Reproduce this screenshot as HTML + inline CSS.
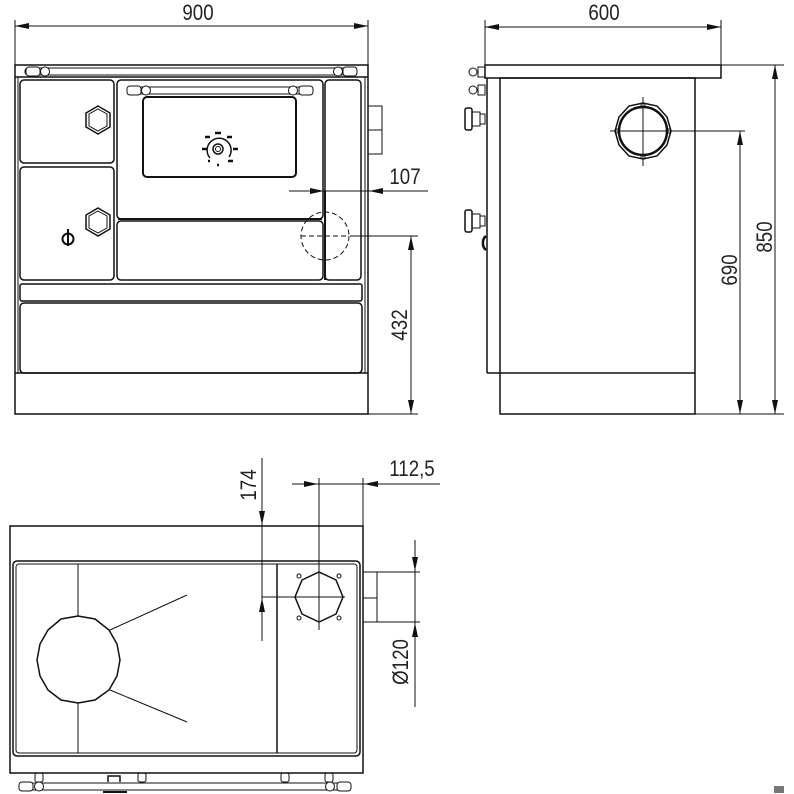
<!DOCTYPE html>
<html><head><meta charset="utf-8"><style>
html,body{margin:0;padding:0;background:#fff;}
svg{display:block;}
text{font-family:"Liberation Sans Narrow","Liberation Sans",sans-serif;font-size:22px;fill:#222;}
</style></head><body>
<svg width="794" height="794" viewBox="0 0 794 794" xmlns="http://www.w3.org/2000/svg">
<defs>
<marker id="a" markerWidth="14" markerHeight="6" refX="14" refY="3" orient="auto-start-reverse" markerUnits="userSpaceOnUse">
<path d="M0,0 L14,3 L0,6 Z" fill="#111"/></marker>
</defs>
<g fill="none" stroke="#111" stroke-width="1">
<!-- ===== FRONT VIEW ===== -->
<line x1="15" y1="20" x2="15" y2="65"/><line x1="368" y1="20" x2="368" y2="65"/>
<line x1="15" y1="26" x2="368" y2="26" marker-start="url(#a)" marker-end="url(#a)"/>
<rect x="15" y="65" width="353" height="349" stroke-width="1.5"/>
<line x1="15" y1="77" x2="368" y2="77" stroke-width="1.5"/>
<line x1="18" y1="77" x2="18" y2="373"/><line x1="365" y1="77" x2="365" y2="373"/>
<line x1="15" y1="373" x2="368" y2="373" stroke-width="1.5"/>
<rect x="25" y="68" width="332" height="7" rx="3"/>
<rect x="26" y="67" width="14" height="9" rx="3" fill="#fff"/><circle cx="45" cy="71.5" r="4.5" fill="#fff"/>
<rect x="343" y="67" width="14" height="9" rx="3" fill="#fff"/><circle cx="338" cy="71.5" r="4.5" fill="#fff"/>
<rect x="20" y="80" width="94" height="83" rx="4" stroke-width="1.5"/>
<rect x="20" y="167" width="94" height="113" rx="4" stroke-width="1.5"/>
<rect x="117" y="80" width="206" height="139" rx="4" stroke-width="1.5"/>
<rect x="117" y="221" width="206" height="59" rx="4" stroke-width="1.5"/>
<rect x="325" y="80" width="36" height="200" rx="4" stroke-width="1.5"/>
<rect x="20" y="284" width="342" height="17" rx="2" stroke-width="1.5"/>
<rect x="20" y="303" width="342" height="70" rx="4" stroke-width="1.5"/>
<line x1="118" y1="219" x2="322" y2="219" stroke-width="2"/>
<rect x="127" y="87" width="186" height="7" rx="3"/>
<rect x="127" y="86" width="14" height="9" rx="3" fill="#fff"/><circle cx="146" cy="90.5" r="4.5" fill="#fff"/>
<rect x="299" y="86" width="14" height="9" rx="3" fill="#fff"/><circle cx="293" cy="90.5" r="4.5" fill="#fff"/>
<rect x="143" y="97" width="153" height="80" rx="4" stroke-width="2"/>
<polygon points="98,106 110,113 110,127 98,134 86,127 86,113" stroke-width="1.5"/>
<polygon points="98,109 107,114 107,126 98,131 89,126 89,114"/>
<polygon points="98,208 110,215 110,229 98,236 86,229 86,215" stroke-width="1.5"/>
<polygon points="98,211 107,216 107,228 98,233 89,228 89,216"/>
<circle cx="68" cy="239" r="5.5" stroke-width="2"/><line x1="68" y1="229" x2="68" y2="246" stroke-width="2"/>
<circle cx="218" cy="149" r="5" stroke-width="1.5"/><circle cx="218" cy="149" r="2.5"/>
<path d="M210,158 A12,12 0 1 1 229,157" stroke-width="1.5"/>
<g stroke-width="2.5"><line x1="205" y1="137" x2="210" y2="137"/><line x1="215" y1="133" x2="221" y2="133"/><line x1="227" y1="137" x2="232" y2="137"/><line x1="233" y1="149" x2="238" y2="149"/><line x1="228" y1="161" x2="233" y2="161"/><line x1="202" y1="149" x2="207" y2="149"/><line x1="208" y1="161" x2="210" y2="161"/><line x1="217" y1="165" x2="219" y2="165"/></g>
<rect x="368" y="106" width="14" height="48"/><line x1="368" y1="130" x2="382" y2="130"/>
<line x1="289" y1="191" x2="428" y2="191"/>
<line x1="305" y1="191" x2="324" y2="191" marker-end="url(#a)"/>
<line x1="390" y1="191" x2="369" y2="191" marker-end="url(#a)"/>
<line x1="325" y1="191" x2="325" y2="280" stroke-width="2"/>
<circle cx="325" cy="236" r="24" stroke-dasharray="5,3"/>
<line x1="301" y1="236" x2="349" y2="236" stroke-dasharray="5,3"/>
<line x1="350" y1="236" x2="418" y2="236"/>
<line x1="368" y1="414" x2="418" y2="414"/>
<line x1="411" y1="236" x2="411" y2="414" marker-start="url(#a)" marker-end="url(#a)"/>
<!-- ===== SIDE VIEW ===== -->
<line x1="485" y1="20" x2="485" y2="65"/><line x1="721" y1="20" x2="721" y2="65"/>
<line x1="485" y1="27" x2="721" y2="27" marker-start="url(#a)" marker-end="url(#a)"/>
<rect x="485" y="65" width="236" height="13" stroke-width="1.5"/>
<line x1="487" y1="78" x2="487" y2="373" stroke-width="1.5"/>
<line x1="487" y1="373" x2="695" y2="373" stroke-width="1.5"/>
<rect x="500" y="78" width="195" height="336" stroke-width="1.5"/>
<line x1="721" y1="65" x2="784" y2="65"/>
<line x1="695" y1="414" x2="784" y2="414"/>
<polygon points="671,131 667,145 657,156 643,159 629,156 619,145 615,131 619,117 629,106 643,103 657,106 667,117" stroke-width="1.5"/>
<circle cx="643" cy="131" r="24" stroke-width="2.5"/>
<circle cx="643" cy="105" r="2"/><circle cx="643" cy="157" r="2"/><circle cx="617" cy="131" r="2"/><circle cx="669" cy="131" r="2"/>
<line x1="610" y1="131" x2="745" y2="131"/><line x1="643" y1="97" x2="643" y2="166"/>
<line x1="740" y1="131" x2="740" y2="414" marker-start="url(#a)" marker-end="url(#a)"/>
<line x1="775" y1="65" x2="775" y2="414" marker-start="url(#a)" marker-end="url(#a)"/>
<circle cx="473" cy="72" r="4"/><rect x="478" y="67" width="7" height="10"/>
<circle cx="473" cy="90" r="4"/><rect x="478" y="85" width="7" height="10"/>
<rect x="465" y="108" width="7" height="22" rx="2" stroke-width="1.5"/><path d="M472,112 H480 V126 H472"/><rect x="480" y="114" width="5" height="10"/>
<rect x="465" y="210" width="7" height="22" rx="2" stroke-width="1.5"/><path d="M472,214 H480 V228 H472"/><rect x="480" y="216" width="5" height="10"/>
<path d="M486,236 A6,8 0 0 0 486,250" stroke-width="2.5"/>
<!-- ===== TOP VIEW ===== -->
<rect x="10" y="526" width="353" height="247" stroke-width="1.5"/>
<rect x="13" y="561" width="347" height="195" rx="4" stroke-width="1.5"/>
<rect x="16" y="564" width="341" height="189" rx="3"/>
<line x1="277" y1="564" x2="277" y2="753" stroke-width="1.5"/>
<line x1="78" y1="564" x2="78" y2="616"/><line x1="78" y1="703" x2="78" y2="753"/>
<polygon points="120,660 117,676 109,690 95,700 78,703 61,700 48,690 40,676 37,660 40,644 48,630 61,619 78,616 95,619 109,630 117,644" stroke-width="1.5"/>
<line x1="110" y1="630" x2="187" y2="595"/><line x1="110" y1="690" x2="187" y2="722"/>
<polygon points="343,597 336,614 319,622 302,614 295,597 302,580 319,572 336,580" stroke-width="1.5"/>
<circle cx="299" cy="576" r="2"/><circle cx="339" cy="576" r="2"/><circle cx="299" cy="618" r="2"/><circle cx="339" cy="618" r="2"/>
<rect x="363" y="572" width="14" height="50"/><line x1="363" y1="598" x2="377" y2="598"/>
<rect x="20" y="783" width="331" height="7" rx="3"/>
<rect x="19" y="782" width="14" height="9" rx="3" fill="#fff"/><circle cx="39" cy="786.5" r="4.5" fill="#fff"/>
<rect x="337" y="782" width="14" height="9" rx="3" fill="#fff"/><circle cx="330" cy="786.5" r="4.5" fill="#fff"/>
<rect x="35" y="773" width="8" height="9" rx="2"/><rect x="138" y="773" width="8" height="9" rx="2"/><rect x="281" y="773" width="8" height="9" rx="2"/><rect x="325" y="773" width="8" height="9" rx="2"/>
<path d="M108,782 V776 H120 V782" stroke-width="1.5"/>
<line x1="103" y1="792" x2="127" y2="792" stroke-width="2"/>
<line x1="262" y1="458" x2="262" y2="641"/>
<line x1="262" y1="505" x2="262" y2="525" marker-end="url(#a)"/>
<line x1="262" y1="618" x2="262" y2="598" marker-end="url(#a)"/>
<line x1="262" y1="597" x2="345" y2="597"/>
<line x1="319" y1="478" x2="319" y2="630"/>
<line x1="363" y1="478" x2="363" y2="526"/>
<line x1="292" y1="484" x2="440" y2="484"/>
<line x1="300" y1="484" x2="318" y2="484" marker-end="url(#a)"/>
<line x1="382" y1="484" x2="364" y2="484" marker-end="url(#a)"/>
<line x1="377" y1="572" x2="420" y2="572"/><line x1="377" y1="622" x2="420" y2="622"/>
<line x1="415" y1="540" x2="415" y2="707"/>
<line x1="415" y1="550" x2="415" y2="571" marker-end="url(#a)"/>
<line x1="415" y1="644" x2="415" y2="623" marker-end="url(#a)"/>
</g>
<rect x="774" y="786" width="10" height="7" fill="#777"/>
<g>
<text transform="translate(198,20) scale(0.85,1)" text-anchor="middle">900</text>
<text transform="translate(604,20) scale(0.85,1)" text-anchor="middle">600</text>
<text transform="translate(405,184) scale(0.85,1)" text-anchor="middle">107</text>
<text transform="translate(407,325) rotate(-90) scale(0.85,1)" text-anchor="middle">432</text>
<text transform="translate(737,270) rotate(-90) scale(0.85,1)" text-anchor="middle">690</text>
<text transform="translate(772,237) rotate(-90) scale(0.85,1)" text-anchor="middle">850</text>
<text transform="translate(256,485) rotate(-90) scale(0.85,1)" text-anchor="middle">174</text>
<text transform="translate(412,476) scale(0.85,1)" text-anchor="middle">112,5</text>
<text transform="translate(408,662) rotate(-90) scale(0.85,1)" text-anchor="middle">Ø120</text>
</g>
</svg>
</body></html>
